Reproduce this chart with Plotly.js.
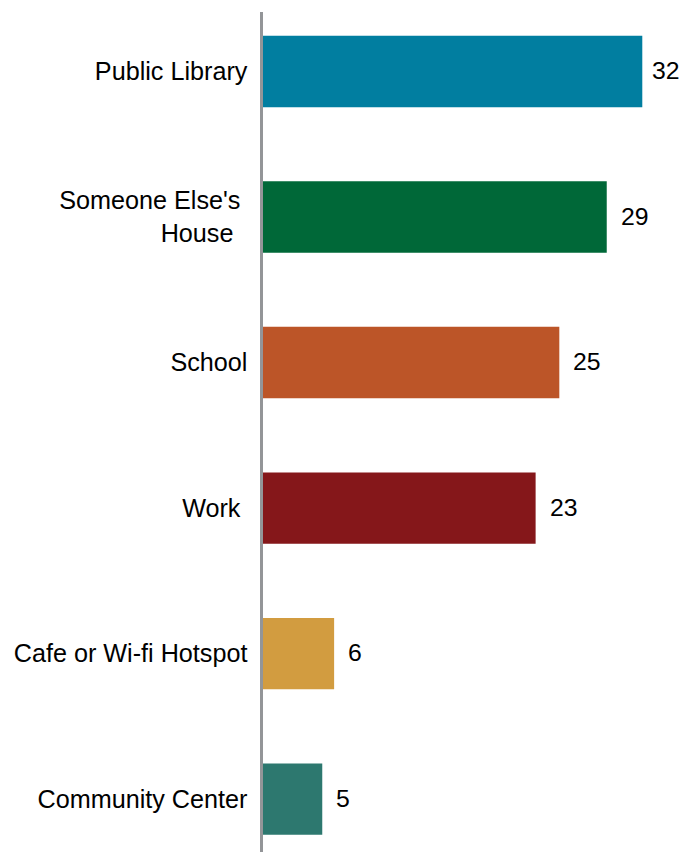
<!DOCTYPE html>
<html>
<head>
<meta charset="utf-8">
<script src="https://cdn.plot.ly/plotly-3.0.1.min.js"></script>
<style>html,body{margin:0;padding:0;background:#fff;}#chart{width:679px;height:852px;}</style>
</head>
<body>
<div id="chart"></div>
<script>
var categories = ["Public Library", "Someone Else's", "School", "Work", "Cafe or Wi-fi Hotspot", "Community Center"];
var tickLabels = ["Public Library", "Someone Else's\u00a0<br>House\u00a0\u00a0", "School", "Work\u00a0", "Cafe or Wi-fi Hotspot", "Community Center"];
var values = [32, 29, 25, 23, 6, 5];
var barColors = ["#017ea0", "#006838", "#bc5528", "#85171a", "#d29c40", "#2d786f"];

var FONT = "Liberation Sans, Arial, sans-serif";

var trace = {
  type: "bar",
  orientation: "h",
  x: values,
  y: categories,
  width: 0.49,
  marker: {color: barColors, line: {width: 0}},
  hoverinfo: "none"
};

var xMax = 34;
var annotations = values.map(function (v, i) {
  // labels near the right edge are pulled in a little so they stay on the page
  var shift = (v / xMax > 0.9) ? 8 : 12;
  return {
    x: v, y: categories[i], xref: "x", yref: "y",
    text: String(v), showarrow: false,
    xanchor: "left", yanchor: "middle", xshift: shift, yshift: 1,
    font: {family: FONT, size: 24.8, color: "#000"}
  };
});

var layout = {
  width: 679, height: 852,
  margin: {l: 263, r: 13, t: 12, b: 0, pad: 0},
  paper_bgcolor: "#fff",
  plot_bgcolor: "#fff",
  showlegend: false,
  bargap: 0.51,
  font: {family: FONT, size: 25, color: "#000"},
  xaxis: {
    range: [0, xMax], visible: false, showgrid: false, zeroline: false, fixedrange: true
  },
  yaxis: {
    type: "category",
    range: [5.364, -0.409],
    tickmode: "array",
    tickvals: categories,
    ticktext: tickLabels,
    showline: true, linecolor: "#939598", linewidth: 3.5,
    ticks: "outside", ticklen: 7, tickcolor: "rgba(0,0,0,0)",
    showgrid: false, zeroline: false,
    tickfont: {family: FONT, size: 25.2, color: "#000"},
    fixedrange: true
  },
  annotations: annotations
};

Plotly.newPlot("chart", [trace], layout, {displayModeBar: false, staticPlot: true});
</script>
</body>
</html>
